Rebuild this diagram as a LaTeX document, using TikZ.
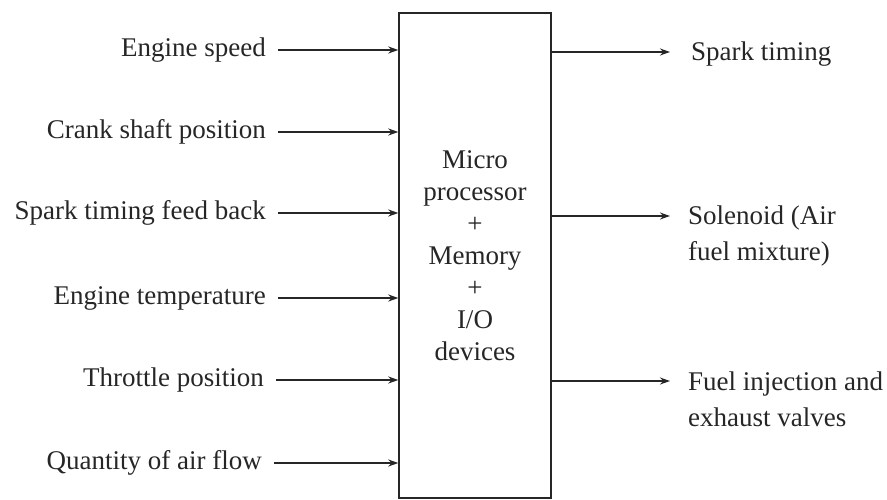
\documentclass[tikz,border=0pt]{standalone}
\usepackage{fontspec}
\setmainfont{Liberation Serif}
\usepackage{tikz}
\usetikzlibrary{arrows.meta, positioning}
\tikzset{
  cpublock/.style={
    rectangle, draw=black!85, line width=1.4pt, minimum width=152pt, minimum height=485pt,
    align=center, text=black!85, font=\fontsize{27}{32}\selectfont
  },
  inlabel/.style={
    anchor=east, inner xsep=12pt, inner ysep=2pt, text=black!85, font=\fontsize{27}{30}\selectfont
  },
  outlabel/.style={
    anchor=base west, inner sep=0pt, align=left, text=black!85, font=\fontsize{27}{36}\selectfont
  },
  sigarrow/.style={
    line width=1.4pt, draw=black!85, -{Stealth[length=10pt,width=7pt]}
  }
}
\begin{document}
\begin{tikzpicture}[x=1pt, y=-1pt]
  \useasboundingbox (0,0) rectangle (887,500);
  \node[cpublock] (cpu) at (475,255.5) {Micro\\ processor\\ +\\ Memory\\ +\\ I/O\\ devices};

  % inputs
  \node[inlabel] (speed) at (278,50) {Engine speed};
  \node[inlabel] (crank) at (278,132) {Crank shaft position};
  \node[inlabel] (sparkfb) at (278,213) {Spark timing feed back};
  \node[inlabel] (temp) at (278,298) {Engine temperature};
  \node[inlabel] (throttle) at (276,380) {Throttle position};
  \node[inlabel] (airflow) at (274,463) {Quantity of air flow};

  \draw[sigarrow] (speed) -- (speed -| cpu.west);
  \draw[sigarrow] (crank) -- (crank -| cpu.west);
  \draw[sigarrow] (sparkfb) -- (sparkfb -| cpu.west);
  \draw[sigarrow] (temp) -- (temp -| cpu.west);
  \draw[sigarrow] (throttle) -- (throttle -| cpu.west);
  \draw[sigarrow] (airflow) -- (airflow -| cpu.west);

  % outputs
  \coordinate (sparkend) at (670,52);
  \coordinate (solenoidend) at (670,216);
  \coordinate (fuelend) at (670,381);
  \draw[sigarrow] (cpu.east |- sparkend) -- (sparkend);
  \draw[sigarrow] (cpu.east |- solenoidend) -- (solenoidend);
  \draw[sigarrow] (cpu.east |- fuelend) -- (fuelend);

  \node[outlabel] (spark) at (691,61) {Spark timing};
  \node[outlabel] (solenoid) at (688,261) {Solenoid (Air\\ fuel mixture)};
  \node[outlabel] (fuelinj) at (688,426) {Fuel injection and\\ exhaust valves};
\end{tikzpicture}
\end{document}
